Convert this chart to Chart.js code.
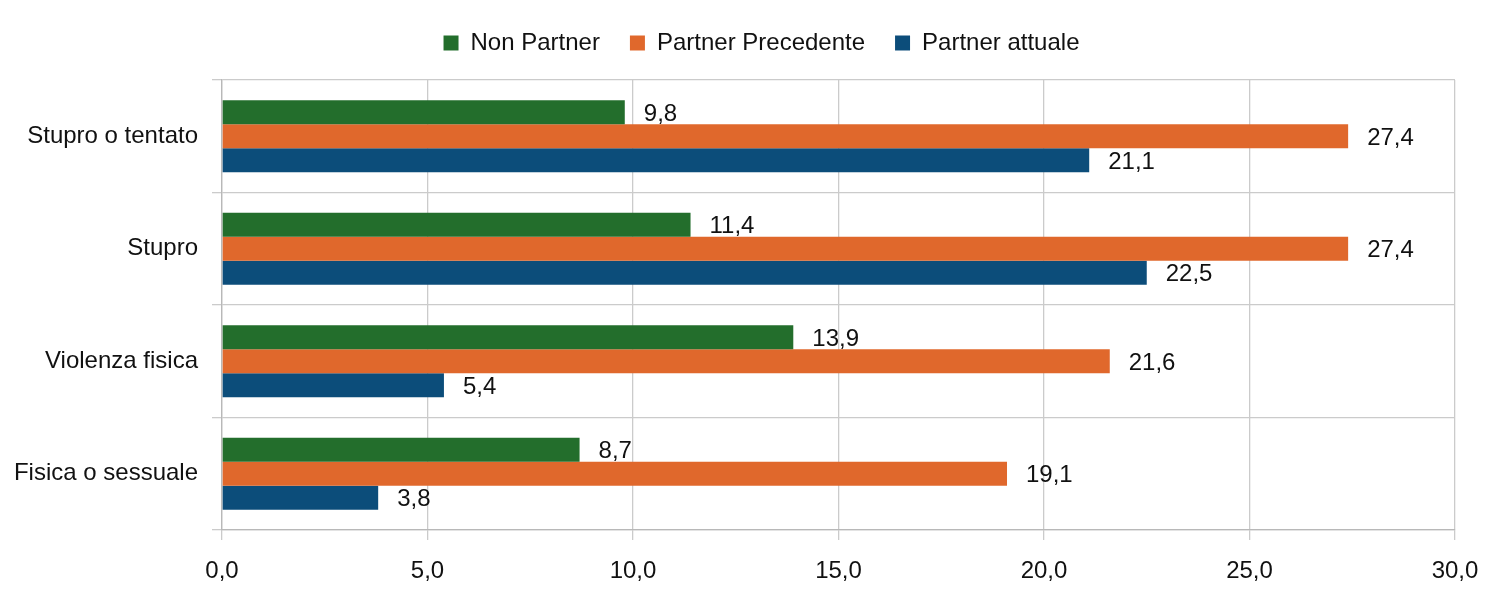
<!DOCTYPE html>
<html>
<head>
<meta charset="utf-8">
<script src="https://cdn.jsdelivr.net/npm/chart.js@4/dist/chart.umd.min.js"></script>
<style>
  html, body { margin: 0; padding: 0; background: #fff; }
  #wrap { width: 1503px; height: 614px; }
</style>
</head>
<body>
<div id="wrap"><canvas id="violenceChart"></canvas></div>
<script>
const categories = ["Stupro o tentato", "Stupro", "Violenza fisica", "Fisica o sessuale"];
const nonPartner = [9.8, 11.4, 13.9, 8.7];
const partnerPrecedente = [27.4, 27.4, 21.6, 19.1];
const partnerAttuale = [21.1, 22.5, 5.4, 3.8];
const xTicks = [0, 5, 10, 15, 20, 25, 30];

const FONT = "'Liberation Sans Narrow', 'Liberation Sans', Arial, sans-serif";
const fmt = (v) => Number(v).toFixed(1).replace(".", ",");

// value labels to the right of each bar
const barLabels = {
  id: "barLabels",
  afterDatasetsDraw(chart) {
    const ctx = chart.ctx;
    ctx.save();
    ctx.font = `24px ${FONT}`;
    ctx.fillStyle = "#111";
    ctx.textBaseline = "middle";
    ctx.textAlign = "left";
    chart.data.datasets.forEach((ds, i) => {
      chart.getDatasetMeta(i).data.forEach((bar, j) => {
        ctx.fillText(fmt(ds.data[j]), bar.x + 19, bar.y + 2);
      });
    });
    ctx.restore();
  },
};

// extra room under the legend, and nudge it over the middle of the page
const legendSpacing = {
  id: "legendSpacing",
  beforeInit(chart) {
    const legend = chart.legend;
    const origFit = legend.fit;
    legend.fit = function () {
      origFit.call(this);
      this.height += 10;
    };
    const origDraw = legend.draw;
    legend.draw = function () {
      const ctx = this.ctx;
      ctx.save();
      ctx.translate(34, -5);
      origDraw.call(this);
      ctx.restore();
    };
  },
};

new Chart(document.getElementById("violenceChart"), {
  type: "bar",
  data: {
    labels: categories,
    datasets: [
      { label: "Non Partner", data: nonPartner, backgroundColor: "#236e2c" },
      { label: "Partner Precedente", data: partnerPrecedente, backgroundColor: "#e0682c" },
      { label: "Partner attuale", data: partnerAttuale, backgroundColor: "#0c4d7a" },
    ],
  },
  options: {
    indexAxis: "y",
    responsive: true,
    maintainAspectRatio: false,
    animation: false,
    layout: { padding: { left: 0, right: 48, top: 6, bottom: 0 } },
    datasets: { bar: { categoryPercentage: 0.64, barPercentage: 1.0 } },
    scales: {
      x: {
        min: 0,
        max: 30,
        afterBuildTicks: (scale) => {
          scale.ticks = xTicks.map((v) => ({ value: v }));
        },
        afterFit: (scale) => { scale.height = 84; },
        grid: { color: "#cbcbcb", lineWidth: 1.3, tickLength: 10 },
        border: { color: "#b8b8b8", width: 1.3 },
        ticks: {
          color: "#111",
          font: { family: FONT, size: 24 },
          padding: 17,
          callback: (v) => fmt(v),
        },
      },
      y: {
        afterFit: (scale) => { scale.width = 222; },
        grid: { offset: true, color: "#cbcbcb", lineWidth: 1.3, tickLength: 10 },
        border: { color: "#b8b8b8", width: 1.3 },
        ticks: {
          color: "#111",
          font: { family: FONT, size: 24 },
          padding: 14,
        },
      },
    },
    plugins: {
      legend: {
        position: "top",
        labels: {
          boxWidth: 15,
          boxHeight: 15,
          padding: 30,
          color: "#111",
          font: { family: FONT, size: 24 },
        },
      },
      tooltip: { enabled: false },
    },
  },
  plugins: [barLabels, legendSpacing],
});
</script>
</body>
</html>
